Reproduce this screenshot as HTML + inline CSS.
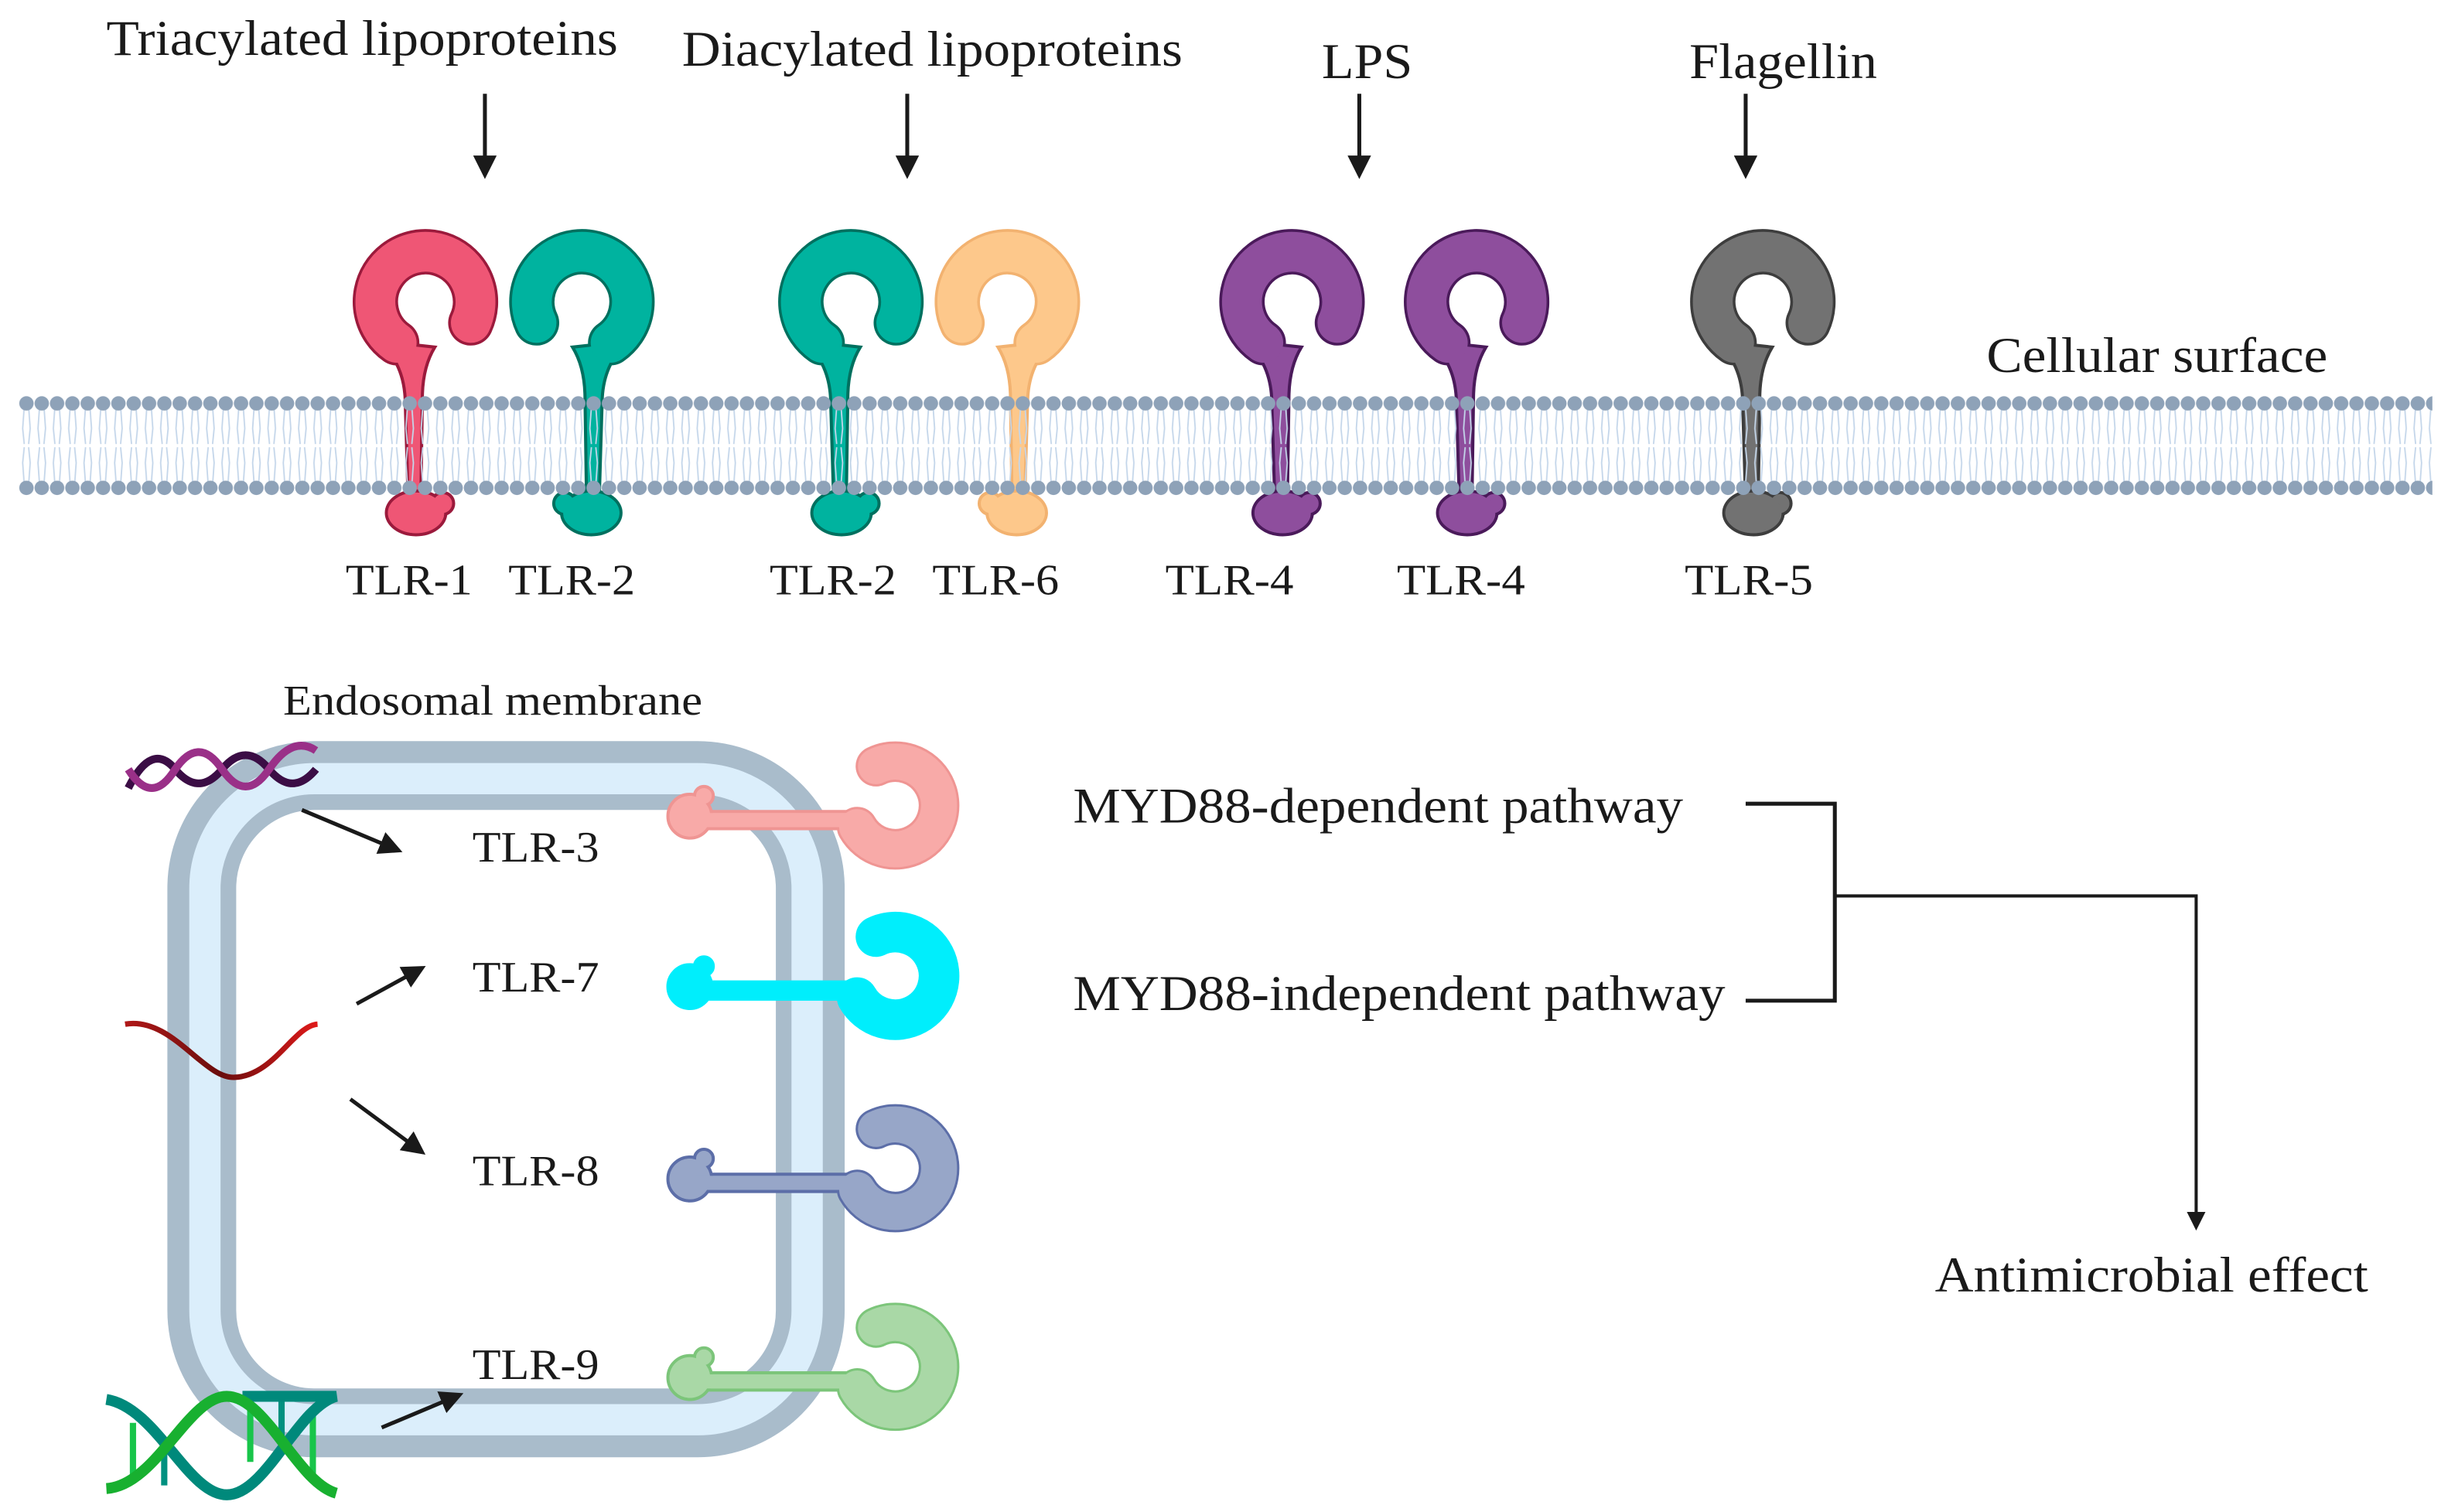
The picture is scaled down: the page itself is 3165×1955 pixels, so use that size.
<!DOCTYPE html>
<html><head><meta charset="utf-8"><style>
html,body{margin:0;padding:0;background:#fff;}
svg{display:block;}
text{font-family:"Liberation Serif",serif;fill:#1a1a1a;}
</style></head><body>
<svg width="3165" height="1955" viewBox="0 0 1565 967" preserveAspectRatio="none" xmlns="http://www.w3.org/2000/svg">
<defs>
<marker id="ah" markerWidth="6" markerHeight="6" refX="5" refY="3" orient="auto" markerUnits="strokeWidth">
<path d="M0,0 L6,3 L0,6 Z" fill="#1a1a1a"/></marker>
<pattern id="mem" x="12" y="250" width="9.8" height="70" patternUnits="userSpaceOnUse">
<path d="M3.5 10 L2.5 24 L3.5 34 M6.3 10 L7.3 24 L6.3 34 M3.5 36 L2.5 46 L3.5 60 M6.3 36 L7.3 46 L6.3 60" stroke="#c4d6ea" stroke-width="0.9" fill="none"/>
<circle cx="4.9" cy="8" r="4.6" fill="#8ea2b8"/>
<circle cx="4.9" cy="62" r="4.6" fill="#8ea2b8"/>
</pattern>
<g id="rec">
<path d="M29 206.5 A32 32 0 1 0 -18.4 219.2" fill="none" stroke="var(--d)" stroke-width="29" stroke-linecap="round"/>
<path d="M-30 218 Q-14 232 -13 255 L-11 322 L-3 322 L-2 255 Q-2 235 6 222 Z" fill="var(--f)" stroke="var(--d)" stroke-width="2"/>
<ellipse cx="-6" cy="328" rx="19" ry="14" fill="var(--f)" stroke="var(--d)" stroke-width="2"/>
<circle cx="11" cy="322" r="7" fill="var(--f)" stroke="var(--d)" stroke-width="2"/>
<ellipse cx="-6" cy="328" rx="18" ry="13" fill="var(--f)"/>
<path d="M29 206.5 A32 32 0 1 0 -18.4 219.2" fill="none" stroke="var(--f)" stroke-width="25.5" stroke-linecap="round"/>
</g>
<g id="erec">
<path d="M560 -26 A28 28 0 1 1 548 13" fill="none" stroke="var(--d)" stroke-width="26" stroke-linecap="round"/>
<path d="M441 3 L552 3 L552 14 L441 14 Z" fill="var(--f)" stroke="var(--d)" stroke-width="2"/>
<circle cx="441" cy="6" r="14" fill="var(--f)" stroke="var(--d)" stroke-width="2"/>
<circle cx="450" cy="-7" r="6" fill="var(--f)" stroke="var(--d)" stroke-width="2"/>
<circle cx="441" cy="6" r="13" fill="var(--f)"/>
<rect x="445" y="4" width="100" height="9" fill="var(--f)"/>
<path d="M560 -26 A28 28 0 1 1 548 13" fill="none" stroke="var(--f)" stroke-width="23" stroke-linecap="round"/>
</g>
</defs>

<g font-size="32">
<text x="68" y="35" textLength="327" lengthAdjust="spacingAndGlyphs">Triacylated lipoproteins</text>
<text x="436" y="42" textLength="320" lengthAdjust="spacingAndGlyphs">Diacylated lipoproteins</text>
<text x="845" y="50" textLength="58" lengthAdjust="spacingAndGlyphs">LPS</text>
<text x="1080" y="50" textLength="120" lengthAdjust="spacingAndGlyphs">Flagellin</text>
<text x="1270" y="238" textLength="218" lengthAdjust="spacingAndGlyphs">Cellular surface</text>
</g>

<g stroke="#1a1a1a" stroke-width="2.5" marker-end="url(#ah)">
<line x1="310" y1="60" x2="310" y2="112"/>
<line x1="580" y1="60" x2="580" y2="112"/>
<line x1="869" y1="60" x2="869" y2="112"/>
<line x1="1116" y1="60" x2="1116" y2="112"/>
</g>

<use href="#rec" transform="translate(272,0)" style="--f:#ef5675;--d:#9b1a3c"/>
<use href="#rec" transform="translate(372,0) scale(-1,1)" style="--f:#00b39f;--d:#00705f"/>
<use href="#rec" transform="translate(544,0)" style="--f:#00b39f;--d:#00705f"/>
<use href="#rec" transform="translate(644,0) scale(-1,1)" style="--f:#fdc88b;--d:#f2b270"/>
<use href="#rec" transform="translate(826,0)" style="--f:#8e4e9d;--d:#4a1a5a"/>
<use href="#rec" transform="translate(944,0)" style="--f:#8e4e9d;--d:#4a1a5a"/>
<use href="#rec" transform="translate(1127,0)" style="--f:#727272;--d:#3d3d3d"/>

<rect x="12" y="250" width="1543" height="70" fill="url(#mem)"/>

<g font-size="28">
<text x="221" y="380" textLength="81" lengthAdjust="spacingAndGlyphs">TLR-1</text>
<text x="325" y="380" textLength="81" lengthAdjust="spacingAndGlyphs">TLR-2</text>
<text x="492" y="380" textLength="81" lengthAdjust="spacingAndGlyphs">TLR-2</text>
<text x="596" y="380" textLength="81" lengthAdjust="spacingAndGlyphs">TLR-6</text>
<text x="745" y="380" textLength="82" lengthAdjust="spacingAndGlyphs">TLR-4</text>
<text x="893" y="380" textLength="82" lengthAdjust="spacingAndGlyphs">TLR-4</text>
<text x="1077" y="380" textLength="82" lengthAdjust="spacingAndGlyphs">TLR-5</text>
</g>

<text x="181" y="457" font-size="27" textLength="268" lengthAdjust="spacingAndGlyphs">Endosomal membrane</text>
<rect x="129" y="496" width="389" height="414" rx="72" fill="none" stroke="#a9bccb" stroke-width="44"/>
<rect x="131" y="498" width="385" height="410" rx="70" fill="none" stroke="#dbeefb" stroke-width="20"/>

<use href="#erec" transform="translate(0,516)" style="--f:#f8aaa8;--d:#ef9593"/>
<use href="#erec" transform="translate(0,625)" style="--f:#00eefc;--d:#00eefc"/>
<use href="#erec" transform="translate(0,748)" style="--f:#97a6c8;--d:#5c6ea8"/>
<use href="#erec" transform="translate(0,875)" style="--f:#a9d8a6;--d:#7cc57a"/>

<g font-size="28">
<text x="302" y="551" textLength="81" lengthAdjust="spacingAndGlyphs">TLR-3</text>
<text x="302" y="634" textLength="81" lengthAdjust="spacingAndGlyphs">TLR-7</text>
<text x="302" y="758" textLength="81" lengthAdjust="spacingAndGlyphs">TLR-8</text>
<text x="302" y="882" textLength="81" lengthAdjust="spacingAndGlyphs">TLR-9</text>
</g>

<g stroke="#1a1a1a" stroke-width="2.5" marker-end="url(#ah)">
<line x1="193" y1="518" x2="255" y2="544"/>
<line x1="228" y1="642" x2="270" y2="619"/>
<line x1="224" y1="703" x2="270" y2="737"/>
<line x1="244" y1="913" x2="294" y2="892"/>
</g>

<path d="M82 504 Q97 474 112 492 T142 492 T172 492 T202 492" fill="none" stroke="#3b0d45" stroke-width="5"/>
<path d="M82 492 Q97 516 112 492 Q127 470 142 492 T172 492 T202 480" fill="none" stroke="#9a3088" stroke-width="5"/>
<defs><linearGradient id="rg" x1="0" x2="1"><stop offset="0" stop-color="#b01818"/><stop offset="0.5" stop-color="#6a0d0d"/><stop offset="1" stop-color="#e01a1a"/></linearGradient></defs>
<path d="M80 655 C110 650 130 690 150 689 C175 688 188 656 203 655" fill="none" stroke="url(#rg)" stroke-width="3.5"/>
<g stroke-width="4">
<line x1="85" y1="910" x2="85" y2="945" stroke="#18c54a"/>
<line x1="105" y1="920" x2="105" y2="950" stroke="#009080"/>
<line x1="160" y1="895" x2="160" y2="935" stroke="#18c54a"/>
<line x1="180" y1="895" x2="180" y2="930" stroke="#009080"/>
<line x1="200" y1="900" x2="200" y2="945" stroke="#18c54a"/>
</g>
<path d="M68 895 C100 900 120 956 145 956 C170 956 190 900 215 893 L155 893" fill="none" stroke="#00897b" stroke-width="7"/>
<path d="M68 952 C100 950 120 893 145 893 C170 893 190 948 215 955" fill="none" stroke="#18b030" stroke-width="7"/>

<g font-size="32">
<text x="686" y="526" textLength="390" lengthAdjust="spacingAndGlyphs">MYD88-dependent pathway</text>
<text x="686" y="646" textLength="417" lengthAdjust="spacingAndGlyphs">MYD88-independent pathway</text>
<text x="1237" y="826" textLength="277" lengthAdjust="spacingAndGlyphs">Antimicrobial effect</text>
</g>
<path d="M1116 514 L1173 514 L1173 640 L1116 640" fill="none" stroke="#1a1a1a" stroke-width="2.5"/>
<path d="M1173 573 L1404 573 L1404 785" fill="none" stroke="#1a1a1a" stroke-width="2" marker-end="url(#ah)"/>
</svg>
</body></html>
